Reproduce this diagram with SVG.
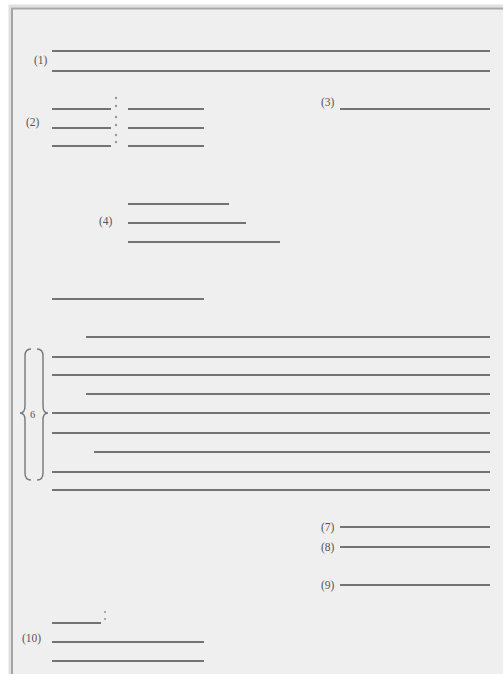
<svg xmlns="http://www.w3.org/2000/svg" width="503" height="674" viewBox="0 0 503 674">
<style>
.ln{stroke:#737373;stroke-width:2.2;fill:none}
.lb{font-family:"Liberation Serif",serif;font-size:11.5px;fill:#555}
.dt{fill:#999}
.br{stroke:#777;stroke-width:1.4;fill:none}
</style>
<rect width="503" height="674" fill="#ffffff"/>
<g id="page">
<rect x="12" y="8" width="491" height="666" fill="#efefef"/>
<path d="M10,674 V6 H503" stroke="#e0e0e0" stroke-width="3" fill="none"/>
<path d="M12,674 V8.5 H503" stroke="#a6a6a6" stroke-width="2" fill="none"/>
</g>
<g id="item1">
<text class="lb" x="34" y="64">(1)</text>
<line class="ln" x1="52" y1="51" x2="490" y2="51"/>
<line class="ln" x1="52" y1="71" x2="490" y2="71"/>
</g>
<g id="item2">
<text class="lb" x="26" y="126">(2)</text>
<line class="ln" x1="52" y1="109" x2="111" y2="109"/>
<line class="ln" x1="52" y1="128" x2="111" y2="128"/>
<line class="ln" x1="52" y1="146" x2="111" y2="146"/>
<line class="ln" x1="128" y1="109" x2="204" y2="109"/>
<line class="ln" x1="128" y1="128" x2="204" y2="128"/>
<line class="ln" x1="128" y1="146" x2="204" y2="146"/>
<circle class="dt" cx="116" cy="98" r="1.2"/>
<circle class="dt" cx="116" cy="106" r="1.2"/>
<circle class="dt" cx="116" cy="117" r="1.2"/>
<circle class="dt" cx="116" cy="125" r="1.2"/>
<circle class="dt" cx="116" cy="135" r="1.2"/>
<circle class="dt" cx="116" cy="142" r="1.2"/>
</g>
<g id="item3">
<text class="lb" x="321" y="106">(3)</text>
<line class="ln" x1="340" y1="109" x2="490" y2="109"/>
</g>
<g id="item4">
<text class="lb" x="99" y="225">(4)</text>
<line class="ln" x1="128" y1="204" x2="229" y2="204"/>
<line class="ln" x1="128" y1="223" x2="246" y2="223"/>
<line class="ln" x1="128" y1="242" x2="280" y2="242"/>
</g>
<g id="item5">
<line class="ln" x1="52" y1="299" x2="204" y2="299"/>
</g>
<g id="item6">
<path class="br" d="M31,349 Q25,349 25,356 L25,406 Q25,413 20,413 Q25,413 25,420 L25,473 Q25,480 31,480"/>
<path class="br" d="M37,349 Q43,349 43,356 L43,406 Q43,413 48,413 Q43,413 43,420 L43,473 Q43,480 37,480"/>
<text class="lb" x="30" y="418" style="font-size:10.5px">6</text>
<line class="ln" x1="86" y1="337" x2="490" y2="337"/>
<line class="ln" x1="52" y1="357" x2="490" y2="357"/>
<line class="ln" x1="52" y1="375" x2="490" y2="375"/>
<line class="ln" x1="86" y1="394" x2="490" y2="394"/>
<line class="ln" x1="52" y1="413" x2="490" y2="413"/>
<line class="ln" x1="52" y1="433" x2="490" y2="433"/>
<line class="ln" x1="94" y1="452" x2="490" y2="452"/>
<line class="ln" x1="52" y1="472" x2="490" y2="472"/>
<line class="ln" x1="52" y1="490" x2="490" y2="490"/>
</g>
<g id="item7">
<text class="lb" x="321" y="531">(7)</text>
<line class="ln" x1="340" y1="527" x2="490" y2="527"/>
</g>
<g id="item8">
<text class="lb" x="321" y="551">(8)</text>
<line class="ln" x1="340" y1="547" x2="490" y2="547"/>
</g>
<g id="item9">
<text class="lb" x="321" y="589">(9)</text>
<line class="ln" x1="340" y1="585" x2="490" y2="585"/>
</g>
<g id="item10">
<text class="lb" x="22" y="642">(10)</text>
<line class="ln" x1="52" y1="623" x2="101" y2="623"/>
<circle class="dt" cx="105" cy="612" r="1.1"/>
<circle class="dt" cx="105" cy="619" r="1.1"/>
<line class="ln" x1="52" y1="642" x2="204" y2="642"/>
<line class="ln" x1="52" y1="661" x2="204" y2="661"/>
</g>
<g id="connectors"></g>
</svg>
